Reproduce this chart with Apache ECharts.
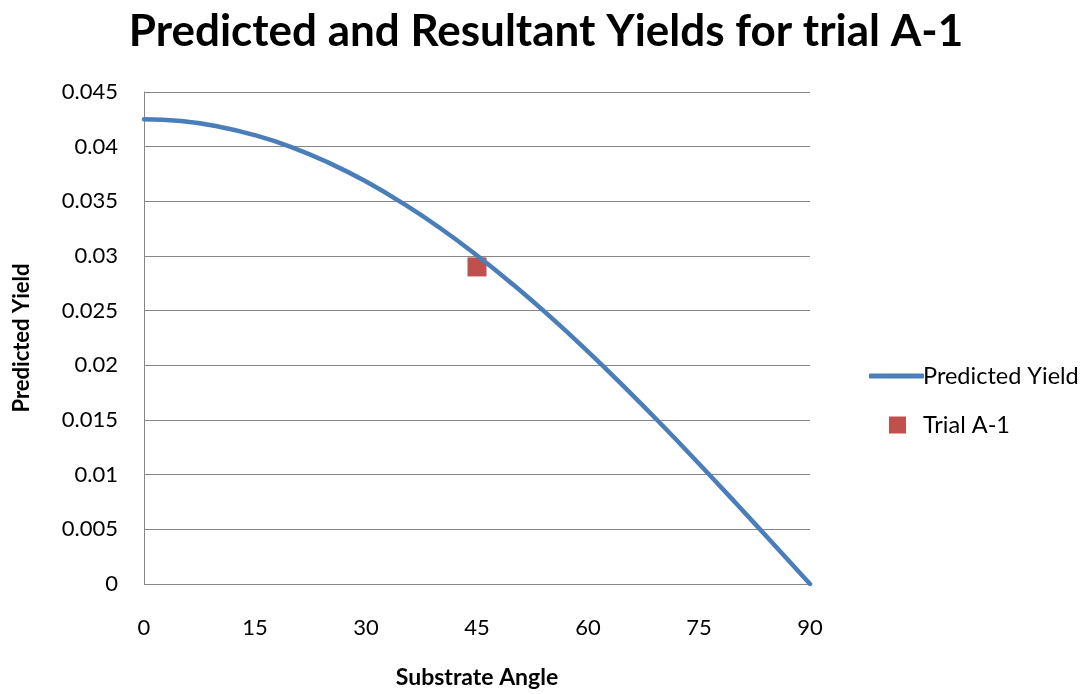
<!DOCTYPE html>
<html>
<head>
<meta charset="utf-8">
<script src="https://cdn.jsdelivr.net/npm/echarts@6/dist/echarts.min.js"></script>
<style>
  html, body { margin: 0; padding: 0; background: #ffffff; }
  #chart { width: 1092px; height: 694px; }
</style>
</head>
<body>
<div id="chart"></div>
<script>
// Substrate angle (degrees) and predicted yield
const angles = [0, 5, 10, 15, 20, 25, 30, 35, 40, 45, 50, 55, 60, 65, 70, 75, 80, 85, 90];
const predictedYield = [0.04250, 0.04234, 0.04185, 0.04105, 0.03994, 0.03852, 0.03681, 0.03481, 0.03256, 0.03005,
  0.02732, 0.02438, 0.02125, 0.01796, 0.01454, 0.01100, 0.00738, 0.00370, 0.0];
// Measured result of trial A-1: [angle, yield]
const trialA1 = [[45, 0.029]];

const FONT = 'Lato, "Open Sans", sans-serif';
const chart = echarts.init(document.getElementById('chart'), null, { renderer: 'canvas' });

chart.setOption({
  animation: false,
  backgroundColor: '#ffffff',
  title: {
    text: 'Predicted and Resultant Yields for trial A-1',
    left: 541,
    textAlign: 'center',
    top: 5,
    textStyle: { fontFamily: FONT, fontWeight: 'bold', fontSize: 44, color: '#000000' }
  },
  grid: { left: 144, right: 282, top: 92, bottom: 108 },
  legend: [
    {
      data: ['Predicted Yield'],
      left: 864, top: 359,
      icon: 'roundRect', itemWidth: 55, itemHeight: 5,
      textStyle: { fontFamily: FONT, fontSize: 23.5, color: '#000000', padding: [0, 0, 0, -6] }
    },
    {
      data: ['Trial A-1'],
      left: 884, top: 408,
      icon: 'rect', itemWidth: 17, itemHeight: 17,
      textStyle: { fontFamily: FONT, fontSize: 23.5, color: '#000000', padding: [0, 0, 0, 12] }
    }
  ],
  xAxis: {
    type: 'value', min: 0, max: 90, interval: 15,
    name: 'Substrate Angle', nameLocation: 'middle', nameGap: 82,
    nameTextStyle: { fontFamily: FONT, fontWeight: 'bold', fontSize: 23, color: '#000000' },
    axisLine: { show: false },
    axisTick: { show: false },
    splitLine: { show: false },
    axisLabel: { fontFamily: FONT, fontSize: 22, color: '#000000', margin: 33 }
  },
  yAxis: {
    type: 'value', min: 0, max: 0.045, interval: 0.005,
    name: 'Predicted Yield', nameLocation: 'middle', nameGap: 111,
    nameTextStyle: { fontFamily: FONT, fontWeight: 'bold', fontSize: 22, color: '#000000' },
    axisLine: { show: true, lineStyle: { color: '#868686', width: 1 } },
    axisTick: { show: false },
    splitLine: { show: true, lineStyle: { color: '#868686', width: 1 } },
    axisLabel: { fontFamily: FONT, fontSize: 22, color: '#000000', margin: 26 }
  },
  series: [
    {
      name: 'Predicted Yield',
      type: 'line',
      data: angles.map((a, i) => [a, predictedYield[i]]),
      smooth: true,
      showSymbol: false,
      symbol: 'none',
      lineStyle: { color: '#4A7EBB', width: 4.5, cap: 'round' },
      itemStyle: { color: '#4A7EBB' }
    },
    {
      name: 'Trial A-1',
      type: 'scatter',
      data: trialA1,
      symbol: 'rect',
      symbolSize: 19,
      itemStyle: { color: '#C0504D', opacity: 1 }
    }
  ]
});
</script>
</body>
</html>
